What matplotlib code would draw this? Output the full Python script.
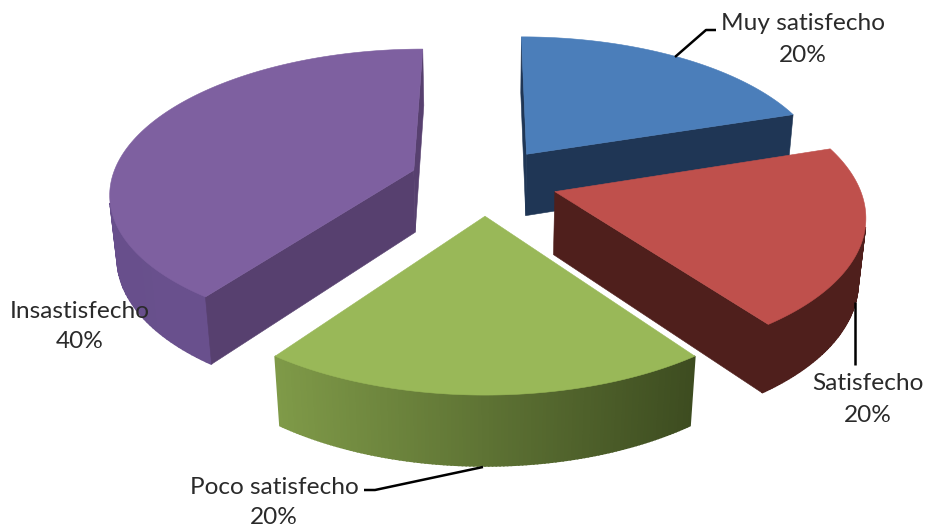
# -*- coding: utf-8 -*-
# Exploded 3D pie of satisfaction levels, drawn with a small perspective camera.
from matplotlib import pyplot as plt
from matplotlib.colors import to_rgb
from matplotlib.patches import Polygon
import numpy as np

plt.rcParams['font.family'] = ['Lato', 'DejaVu Sans']

# data
labels = ['Muy satisfecho', 'Satisfecho', 'Poco satisfecho', 'Insastisfecho']
shares = [20, 20, 20, 40]

# colours per slice: top, cut wall, rim wall at left, rim wall at right
topColors = ['#4b7eba', '#bf504c', '#99b858', '#7e60a0']
cutColors = ['#1f3655', '#4f1f1c', '#3f4f22', '#57406f']
rimLeft = ['#1f3655', '#4f1f1c', '#7f9a48', '#684f8c']
rimRight = ['#1f3655', '#4f1f1c', '#3d4c20', '#6c5490']

# label centres and leader lines, in pixels
labelPos = [(803, 23), (868, 383), (274, 487), (80, 311)]
percentPos = [(803, 55), (868, 415), (274, 518), (80, 341)]
leaders = [[(716, 30), (706, 30), (675, 57)],
           [(855, 302), (855, 365)],
           [(364, 490), (375, 490), (483, 467)]]

# camera
cx, cy = 485, 181
scaleX, scaleY = 302.7, 141.6
persp = 0.145     # shrink with distance
depth = 63.8      # thickness of the pie on screen
depthPersp = 0.02
explode = [0.24, 0.24, 0.24, 0.25]


def project(X, Y, bottom=False):
    w = 1 + persp * Y
    drop = 0
    if bottom:
        w = w + depthPersp
        drop = depth
    return cx + scaleX * X / w, cy + (-scaleY * Y + drop) / w


def area(quad):
    x, y = np.array(quad).T
    return np.sum(x * np.roll(y, -1) - np.roll(x, -1) * y)


fig = plt.figure(figsize=(9.28, 5.28), dpi=100)
ax = fig.add_axes([0, 0, 1, 1])
ax.set_xlim(0, 928)
ax.set_ylim(528, 0)
ax.axis('off')

edges = np.cumsum([0] + shares) / np.sum(shares) * 2 * np.pi
# far slices first so the near ones sit on top
for i in [0, 3, 1, 2]:
    t0, t1 = edges[i], edges[i + 1]
    mid = (t0 + t1) / 2
    ox, oy = explode[i] * np.sin(mid), explode[i] * np.cos(mid)
    ts = np.linspace(t0, t1, 121)
    ptsX = np.r_[ox, ox + np.sin(ts)]
    ptsY = np.r_[oy, oy + np.cos(ts)]
    top = [project(a, b) for a, b in zip(ptsX, ptsY)]
    bot = [project(a, b, True) for a, b in zip(ptsX, ptsY)]

    xs = [p[0] for p in top[1:]]
    xMin, xMax = min(xs), max(xs)
    n = len(top)
    # rim first, then the cut walls
    for j in list(range(1, n - 1)) + [0, n - 1]:
        k = (j + 1) % n
        quad = [top[j], top[k], bot[k], bot[j]]
        if area(quad) >= 0:
            continue  # faces away from the camera
        if j == 0 or k == 0:
            col = cutColors[i]
            lw = 0.4
        else:
            f = ((top[j][0] + top[k][0]) / 2 - xMin) / (xMax - xMin)
            col = tuple((1 - f) * np.array(to_rgb(rimLeft[i])) + f * np.array(to_rgb(rimRight[i])))
            lw = 1.2
        ax.add_patch(Polygon(quad, closed=True, facecolor=col, edgecolor=col, lw=lw))
    ax.add_patch(Polygon(top, closed=True, facecolor=topColors[i], edgecolor=topColors[i], lw=0.4))

for line in leaders:
    x, y = zip(*line)
    ax.plot(x, y, color='black', lw=1.8, solid_capstyle='butt')

for name, share, p1, p2 in zip(labels, shares, labelPos, percentPos):
    ax.text(p1[0], p1[1], name, ha='center', va='center', fontsize=17.6, color='#2a2a2a')
    ax.text(p2[0], p2[1], '{}%'.format(share), ha='center', va='center', fontsize=17.6, color='#2a2a2a')

fig.savefig('out.png', dpi=100)
